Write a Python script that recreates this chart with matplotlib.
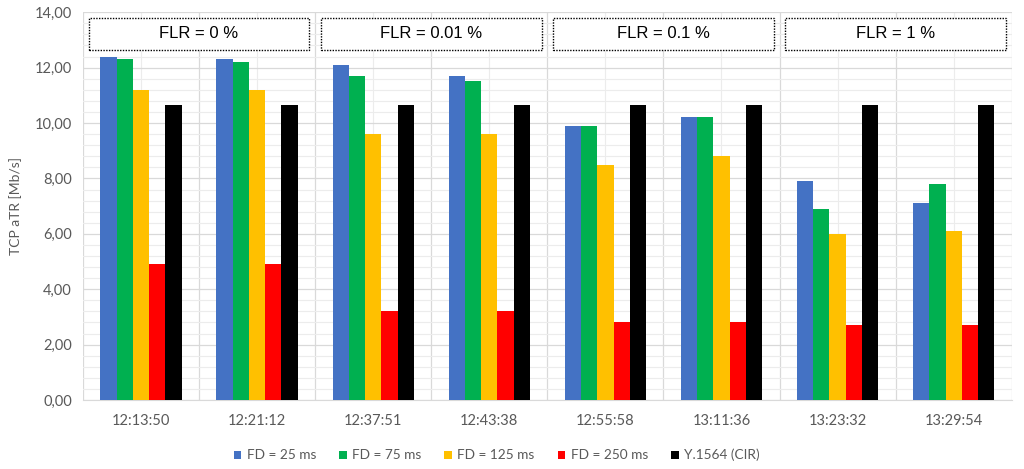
import matplotlib.pyplot as plt
import matplotlib.patches as mpatches
from matplotlib.ticker import MultipleLocator, FuncFormatter, FixedLocator
import numpy as np

plt.rcParams['font.family'] = ['Lato', 'DejaVu Sans']

times = ["12:13:50", "12:21:12", "12:37:51", "12:43:38",
         "12:55:58", "13:11:36", "13:23:32", "13:29:54"]
fd25 = [12.4, 12.3, 12.1, 11.7, 9.9, 10.2, 7.9, 7.1]
fd75 = [12.3, 12.2, 11.7, 11.5, 9.9, 10.2, 6.9, 7.8]
fd125 = [11.2, 11.2, 9.6, 9.6, 8.5, 8.8, 6.0, 6.1]
fd250 = [4.9, 4.9, 3.2, 3.2, 2.8, 2.8, 2.7, 2.7]
cir = [10.66] * 8
series = [fd25, fd75, fd125, fd250, cir]
names = ["FD = 25 ms", "FD = 75 ms", "FD = 125 ms", "FD = 250 ms", "Y.1564 (CIR)"]
colors = ["#4472C4", "#00B050", "#FFC000", "#FF0000", "#000000"]
flr_labels = ["FLR = 0 %", "FLR = 0.01 %", "FLR = 0.1 %", "FLR = 1 %"]

fig = plt.figure(figsize=(10.24, 4.69), dpi=100)
ax = fig.add_axes([0.081, 0.147, 0.907, 0.827])

x = np.arange(len(times))
w = 0.14
for i, (vals, c, n) in enumerate(zip(series, colors, names)):
    ax.bar(x + (i - 2) * w, vals, width=w, color=c, label=n, zorder=3)

ax.set_xlim(-0.5, len(times) - 0.5)
ax.set_ylim(0, 14)
ax.yaxis.set_major_locator(MultipleLocator(2))
ax.yaxis.set_minor_locator(MultipleLocator(0.4))
ax.yaxis.set_major_formatter(FuncFormatter(lambda v, p: f"{v:.2f}".replace(".", ",")))
ax.set_xticks(x)
ax.set_xticklabels(times)
ax.xaxis.set_minor_locator(FixedLocator(np.arange(-0.5, len(times), 1.0)))

ax.grid(True, which='major', axis='y', color='#d9d9d9', lw=0.9, zorder=0)
ax.grid(True, which='minor', axis='y', color='#ececec', lw=0.8, zorder=0)
ax.grid(True, which='minor', axis='x', color='#d9d9d9', lw=0.9, zorder=0)
ax.grid(True, which='major', axis='x', color='#ececec', lw=0.8, zorder=0)

for s in ['top', 'right', 'left']:
    ax.spines[s].set_visible(False)
ax.spines['bottom'].set_color('#d9d9d9')
ax.tick_params(axis='both', which='both', length=0, colors='#595959', labelsize=10.5)
ax.tick_params(axis='x', pad=10)
ax.tick_params(axis='y', pad=8)
ax.set_ylabel("TCP aTR [Mb/s]", color='#595959', fontsize=10, labelpad=9)

for k, lab in enumerate(flr_labels):
    x0 = 2 * k - 0.45
    rect = mpatches.Rectangle((x0, 12.65), 1.9, 1.15, facecolor='white',
                              edgecolor='black', ls=(0, (1, 1)), lw=1.0, zorder=5)
    ax.add_patch(rect)
    ax.text(2 * k + 0.5, 13.22, lab, ha='center', va='center', fontsize=12,
            family=['Liberation Sans', 'DejaVu Sans'], zorder=6)

leg = fig.legend(loc='lower center', ncol=5, frameon=False, fontsize=9.8,
                 bbox_to_anchor=(0.485, -0.01), handlelength=0.55, handleheight=0.55,
                 handletextpad=0.4, columnspacing=1.7)
for t in leg.get_texts():
    t.set_color('#595959')

fig.savefig("out.png", dpi=100)
